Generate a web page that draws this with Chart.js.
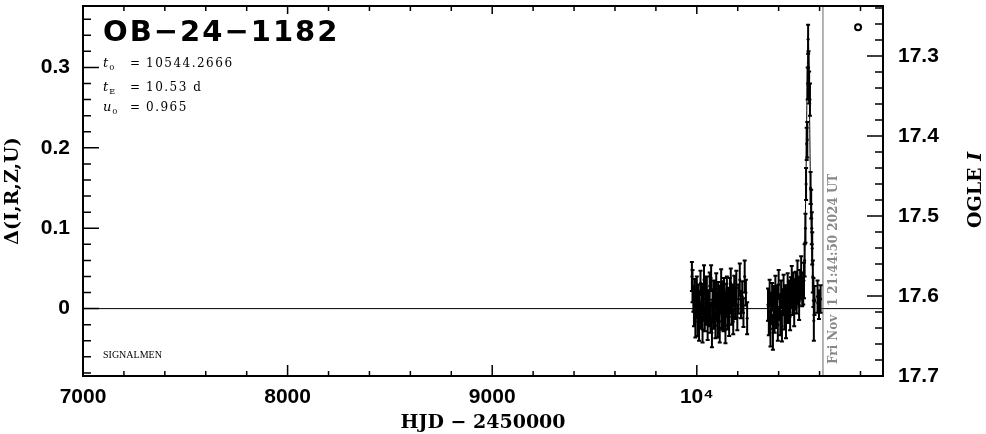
<!DOCTYPE html>
<html>
<head>
<meta charset="utf-8">
<script src="https://cdn.jsdelivr.net/npm/chart.js@4.4.1/dist/chart.umd.min.js"></script>
<style>
  html, body { margin: 0; padding: 0; background: #fff; }
  #c { display: block; }
</style>
</head>
<body>
<canvas id="c" width="986" height="434"></canvas>
<script>
// OGLE season 1
var season1Hjd = [
  9976, 9979, 9983, 9986, 9990, 9993, 9997, 10000, 10004, 10007,
  10011, 10014, 10018, 10021, 10025, 10028, 10032, 10035, 10039, 10042,
  10046, 10049, 10053, 10056, 10060, 10063, 10067, 10070, 10074, 10077,
  10081, 10084, 10088, 10091, 10095, 10098, 10102, 10105, 10109, 10112,
  10116, 10119, 10123, 10126, 10130, 10133, 10137, 10140, 10144, 10147,
  10151, 10154, 10158, 10162, 10166, 10170, 10174, 10178, 10183, 10188,
  10193, 10198, 10204, 10210, 10216, 10222, 10228, 10234, 10240, 10246
];
var season1Delta = [
  0.040, 0.028, 0.012, -0.004, 0.022, -0.016, 0.006, 0.026, -0.012, 0.014,
  -0.022, 0.002, 0.032, -0.008, 0.012, -0.026, 0.006, 0.036, -0.013, 0.018,
  -0.004, 0.022, -0.019, 0.008, 0.000, 0.028, -0.011, 0.038, -0.030, 0.004,
  0.020, -0.007, 0.012, -0.021, 0.025, 0.002, -0.016, 0.018, 0.006, -0.024,
  0.010, 0.030, -0.009, 0.014, -0.013, 0.020, 0.000, -0.026, 0.012, 0.024,
  -0.006, 0.008, -0.019, 0.016, 0.032, -0.003, 0.010, -0.016, 0.022, 0.004,
  0.026, -0.011, 0.012, 0.036, 0.005, 0.015, -0.005, 0.040, 0.020, -0.012
];
var season1Err = [
  0.018, 0.020, 0.016, 0.018, 0.015, 0.020, 0.017, 0.014, 0.022, 0.016,
  0.018, 0.020, 0.015, 0.017, 0.019, 0.016, 0.021, 0.018, 0.015, 0.020,
  0.016, 0.018, 0.020, 0.015, 0.022, 0.017, 0.019, 0.016, 0.018, 0.020,
  0.015, 0.018, 0.021, 0.016, 0.019, 0.017, 0.020, 0.015, 0.022, 0.018,
  0.016, 0.019, 0.017, 0.020, 0.015, 0.018, 0.021, 0.017, 0.019, 0.016,
  0.020, 0.018, 0.015, 0.022, 0.018, 0.017, 0.020, 0.016, 0.019, 0.017,
  0.021, 0.016, 0.018, 0.020, 0.017, 0.019, 0.018, 0.020, 0.016, 0.020
];

// OGLE season 2 (with the event)
var season2Hjd = [
  10348, 10352, 10356, 10360, 10364, 10368, 10372, 10376, 10380, 10384,
  10388, 10392, 10396, 10400, 10404, 10408, 10412, 10416, 10420, 10424,
  10428, 10432, 10436, 10440, 10444, 10448, 10452, 10456, 10460, 10464,
  10468, 10472, 10476, 10480, 10484, 10488, 10492, 10496, 10500, 10505,
  10510, 10515, 10520, 10524, 10527, 10531, 10534, 10537, 10540, 10542,
  10544, 10546, 10549, 10553, 10556, 10559, 10562, 10564, 10567, 10570,
  10572, 10575, 10590, 10597, 10605
];
var season2Delta = [
  0.005, -0.015, 0.020, -0.025, 0.000, 0.015, -0.030, 0.010, -0.010, 0.025,
  -0.005, 0.012, -0.020, 0.030, 0.002, -0.012, 0.018, -0.022, 0.008, 0.022,
  -0.008, 0.012, -0.018, 0.005, 0.028, 0.000, 0.015, -0.010, 0.020, 0.035,
  0.008, 0.025, -0.005, 0.018, 0.030, 0.012, 0.040, 0.022, 0.005, 0.030,
  0.045, 0.020, 0.025, 0.035, 0.060, 0.100, 0.155, 0.205, 0.210, 0.280,
  0.335, 0.300, 0.275, 0.260, 0.150, 0.130, 0.100, 0.075, 0.040, 0.020,
  -0.015, 0.010, 0.015, 0.005, 0.012
];
var season2Err = [
  0.020, 0.018, 0.016, 0.022, 0.019, 0.017, 0.021, 0.018, 0.020, 0.016,
  0.019, 0.017, 0.020, 0.018, 0.016, 0.021, 0.017, 0.019, 0.016, 0.020,
  0.018, 0.017, 0.019, 0.021, 0.016, 0.018, 0.020, 0.017, 0.019, 0.018,
  0.016, 0.020, 0.017, 0.019, 0.016, 0.018, 0.020, 0.017, 0.019, 0.018,
  0.020, 0.017, 0.020, 0.022, 0.020, 0.018, 0.020, 0.020, 0.022, 0.020,
  0.018, 0.020, 0.020, 0.020, 0.020, 0.018, 0.020, 0.020, 0.020, 0.018,
  0.025, 0.018, 0.020, 0.018, 0.017
];

// model curve
var modelHjd = [7000, 10480, 10500, 10514, 10520, 10524, 10527, 10530, 10534, 10537, 10539, 10541,
  10544.27, 10547.5, 10549.5, 10551.5, 10554.5, 10558.5, 10564.5, 10574.5, 10590, 10620, 10910];
var modelDelta = [0, 0, 0.005, 0.018, 0.035, 0.054, 0.075, 0.110, 0.170, 0.235, 0.280, 0.310,
  0.340, 0.310, 0.280, 0.235, 0.170, 0.110, 0.054, 0.018, 0.005, 0, 0];

var markerHjd = [10788];
var markerDelta = [0.35];

var nowHjd = 10616.41;
var nowLabel = 'Fri Nov  1 21:44:50 2024 UT';

var xLabels = { 7000: '7000', 8000: '8000', 9000: '9000', 10000: '10\u2074' };
var yLabels = { '-0': '0', 0: '0', 10: '0.1', 20: '0.2', 30: '0.3' };
var magLabels = { 1730: '17.3', 1740: '17.4', 1750: '17.5', 1760: '17.6', 1770: '17.7' };

function toPoints(xs, ys) {
  var out = [];
  for (var i = 0; i < xs.length; i++) out.push({ x: xs[i], y: ys[i] });
  return out;
}

var obsHjd = season1Hjd.concat(season2Hjd);
var obsDelta = season1Delta.concat(season2Delta);
var obsErr = season1Err.concat(season2Err);

var tickFont = { family: 'Liberation Sans', size: 21, weight: 'bold' };
var titleFont = { family: 'DejaVu Serif', size: 19, weight: 'bold' };

// fixed axis boxes, no extra room for half labels
function fixBox(w, h) {
  return function (s) {
    if (w) s.width = w;
    if (h) s.height = h;
    s.paddingTop = 0;
    s.paddingBottom = 0;
    s.paddingLeft = 0;
    s.paddingRight = 0;
  };
}

var decorations = {
  id: 'decorations',
  beforeDatasetsDraw: function (chart) {
    var c = chart.ctx, a = chart.chartArea;
    var xs = chart.scales.x, ys = chart.scales.y;
    c.save();
    // date line
    var gx = xs.getPixelForValue(nowHjd);
    c.strokeStyle = '#999';
    c.lineWidth = 1.5;
    c.beginPath();
    c.moveTo(gx, a.top);
    c.lineTo(gx, a.bottom);
    c.stroke();
    // error bars
    c.beginPath();
    c.rect(a.left, a.top, a.right - a.left, a.bottom - a.top);
    c.clip();
    c.strokeStyle = '#000';
    c.lineWidth = 2;
    c.beginPath();
    for (var i = 0; i < obsHjd.length; i++) {
      var px = xs.getPixelForValue(obsHjd[i]);
      var t = ys.getPixelForValue(obsDelta[i] + obsErr[i]);
      var b = ys.getPixelForValue(obsDelta[i] - obsErr[i]);
      c.moveTo(px, t); c.lineTo(px, b);
      c.moveTo(px - 2, t); c.lineTo(px + 2, t);
      c.moveTo(px - 2, b); c.lineTo(px + 2, b);
    }
    c.stroke();
    c.restore();
  },
  afterDraw: function (chart) {
    var c = chart.ctx, a = chart.chartArea;
    var xs = chart.scales.x, ys = chart.scales.y, ms = chart.scales.y2;
    c.save();
    c.strokeStyle = '#000';
    c.fillStyle = '#000';

    // inward tick marks
    c.lineWidth = 1.5;
    c.beginPath();
    xs.ticks.forEach(function (t) {
      var px = xs.getPixelForValue(t.value);
      var major = Math.round(t.value) % 1000 === 0;
      c.moveTo(px, a.bottom); c.lineTo(px, a.bottom - (major ? 11 : 5));
      c.moveTo(px, a.top); c.lineTo(px, a.top + (major ? 8 : 5));
    });
    ys.ticks.forEach(function (t) {
      var py = ys.getPixelForValue(t.value);
      var major = Math.round(t.value * 100) % 10 === 0;
      c.moveTo(a.left, py); c.lineTo(a.left + (major ? 16 : 8), py);
    });
    ms.ticks.forEach(function (t) {
      var py = ms.getPixelForValue(t.value);
      var major = Math.round(t.value * 100) % 10 === 0;
      c.moveTo(a.right, py); c.lineTo(a.right - (major ? 16 : 8), py);
    });
    c.stroke();

    // frame
    c.lineWidth = 2;
    c.strokeRect(a.left, a.top, a.right - a.left, a.bottom - a.top);

    // event name
    c.textBaseline = 'alphabetic';
    c.textAlign = 'left';
    c.font = 'bold 29px "DejaVu Sans"';
    c.letterSpacing = '2px';
    c.fillText('OB\u221224\u22121182', 103, 41);

    // parameters
    function param(sym, sub, value, y) {
      c.letterSpacing = '0px';
      c.font = 'italic 13px "DejaVu Serif"';
      c.fillText(sym, 103, y);
      var w = c.measureText(sym).width;
      c.font = '8px "DejaVu Serif"';
      c.fillText(sub, 103 + w + 1, y + 3);
      c.font = '12px "DejaVu Serif"';
      c.fillText('=', 130, y);
      c.letterSpacing = '1.5px';
      c.fillText(value, 146, y);
    }
    param('t', '0', '10544.2666', 67);
    param('t', 'E', '10.53 d', 91);
    param('u', '0', '0.965', 111);

    c.letterSpacing = '0px';
    c.font = '10px "Liberation Serif"';
    c.fillText('SIGNALMEN', 103, 358);

    // date stamp along the vertical line
    var gx = xs.getPixelForValue(nowHjd);
    c.save();
    c.translate(gx + 14, 364);
    c.rotate(-Math.PI / 2);
    c.fillStyle = '#888';
    c.font = 'bold 12px "DejaVu Serif"';
    c.fillText(nowLabel, 0, 0);
    c.restore();

    // right axis title
    c.save();
    c.translate(976, 190);
    c.rotate(-Math.PI / 2);
    c.textBaseline = 'middle';
    c.font = 'bold 19px "DejaVu Serif"';
    var w1 = c.measureText('OGLE ').width;
    c.font = 'bold italic 19px "DejaVu Serif"';
    var w2 = c.measureText('I').width;
    var sx = -(w1 + w2) / 2;
    c.font = 'bold 19px "DejaVu Serif"';
    c.fillText('OGLE ', sx, 0);
    c.font = 'bold italic 19px "DejaVu Serif"';
    c.fillText('I', sx + w1, 0);
    c.restore();

    c.restore();
  }
};

var chart = new Chart(document.getElementById('c').getContext('2d'), {
  type: 'scatter',
  data: {
    datasets: [
      {
        type: 'line',
        label: 'model',
        data: toPoints(modelHjd, modelDelta),
        borderColor: '#000',
        borderWidth: 1,
        pointRadius: 0,
        cubicInterpolationMode: 'monotone',
        fill: false
      },
      {
        label: 'OGLE',
        data: toPoints(obsHjd, obsDelta),
        backgroundColor: '#000',
        borderColor: '#000',
        borderWidth: 0,
        pointRadius: 1.5
      },
      {
        label: 'marker',
        data: toPoints(markerHjd, markerDelta),
        backgroundColor: '#fff',
        borderColor: '#000',
        borderWidth: 2,
        pointRadius: 3
      }
    ]
  },
  options: {
    responsive: false,
    animation: false,
    events: [],
    layout: { padding: { top: 1, left: 0, right: 0, bottom: 0 } },
    plugins: {
      legend: { display: false },
      tooltip: { enabled: false }
    },
    scales: {
      x: {
        type: 'linear',
        position: 'bottom',
        min: 7000,
        max: 10910,
        grid: { display: false, drawTicks: false },
        border: { display: false },
        ticks: {
          stepSize: 200,
          includeBounds: false,
          autoSkip: false,
          maxRotation: 0,
          padding: 9,
          color: '#000',
          font: tickFont,
          callback: function (v) {
            return xLabels[Math.round(v)] || '';
          }
        },
        title: {
          display: true,
          text: 'HJD \u2212 2450000',
          color: '#000',
          font: titleFont,
          padding: { top: 0, bottom: 0 }
        },
        afterFit: fixBox(0, 58)
      },
      y: {
        type: 'linear',
        position: 'left',
        min: -0.0838,
        max: 0.3764,
        grid: { display: false, drawTicks: false },
        border: { display: false },
        ticks: {
          stepSize: 0.02,
          includeBounds: false,
          autoSkip: false,
          padding: 13,
          color: '#000',
          font: tickFont,
          callback: function (v) {
            return yLabels[Math.round(v * 100)] || '';
          }
        },
        title: {
          display: true,
          text: '\u0394(I,R,Z,U)',
          color: '#000',
          font: titleFont,
          padding: { top: 2, bottom: 0 }
        },
        afterFit: fixBox(83, 0)
      },
      y2: {
        type: 'linear',
        position: 'right',
        reverse: true,
        min: 17.2375,
        max: 17.7,
        grid: { display: false, drawTicks: false },
        border: { display: false },
        ticks: {
          stepSize: 0.02,
          includeBounds: false,
          autoSkip: false,
          padding: 15,
          color: '#000',
          font: tickFont,
          callback: function (v) {
            return magLabels[Math.round(v * 100)] || '';
          }
        },
        afterFit: fixBox(103, 0)
      }
    }
  },
  plugins: [decorations]
});
</script>
</body>
</html>
